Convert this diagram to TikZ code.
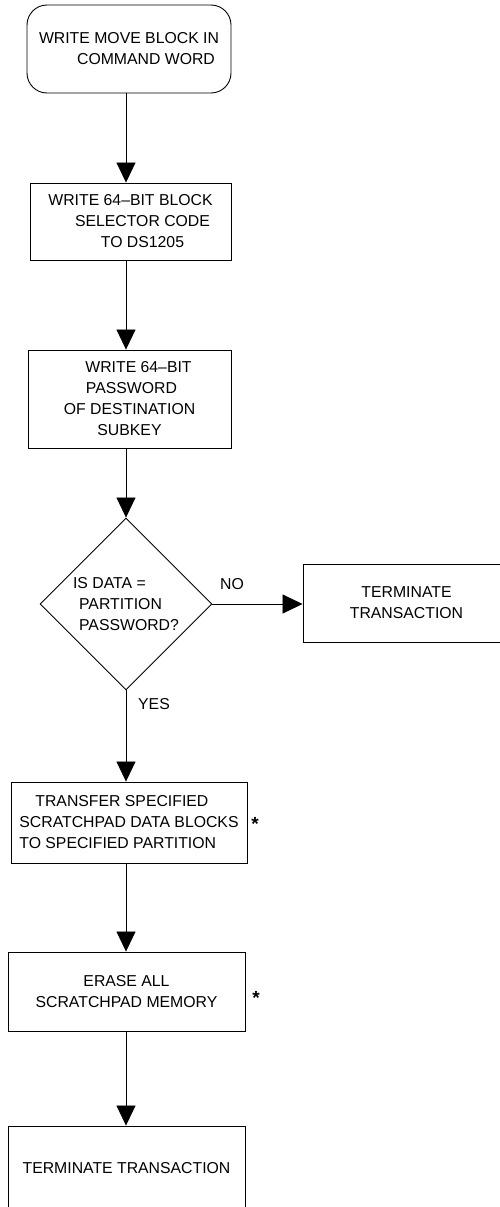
\documentclass[tikz,border=0pt]{standalone}
\usepackage{fontspec}
\setmainfont{Liberation Sans}
\usetikzlibrary{arrows.meta,shapes.geometric}
\tikzset{
  base/.style={draw=black, line width=0.9pt, inner sep=0pt, font=\fontsize{15.8}{21}\selectfont, align=center},
  stepbox/.style={base, rectangle},
  startbox/.style={base, rectangle, rounded corners=20pt},
  decision/.style={base, diamond, aspect=1, minimum width=172pt, minimum height=172pt, align=left},
  flowarrow/.style={draw=black, line width=0.8pt, -{Triangle[width=19pt,length=20pt]}},
  lbl/.style={inner sep=0pt, font=\fontsize{15.8}{21}\selectfont},
  star/.style={inner sep=0pt, font=\fontsize{19}{21}\selectfont\bfseries, anchor=base}
}
\begin{document}
\begin{tikzpicture}[x=1pt,y=-1pt]
\useasboundingbox (0,0) rectangle (499,1207);
\node[startbox, minimum width=204pt, minimum height=88pt] (s) at (129,49)
  {WRITE MOVE BLOCK IN\\\hspace*{34pt}COMMAND WORD};
\node[stepbox, minimum width=201pt, minimum height=77pt] (b2) at (130.5,221.5)
  {WRITE 64–BIT BLOCK\\\hspace*{24pt}SELECTOR CODE\\\hspace*{24pt}TO DS1205};
\node[stepbox, minimum width=203pt, minimum height=98pt] (b3) at (129.5,399)
  {\hspace*{18pt}WRITE 64–BIT\\\hspace*{4pt}PASSWORD\\OF DESTINATION\\SUBKEY};
\node[decision] (d) at (126,604)
  {IS DATA =\\\hspace*{6pt}PARTITION\\\hspace*{6pt}PASSWORD?};
\node[stepbox, minimum width=207pt, minimum height=78pt] (t1) at (406.5,603)
  {TERMINATE\\TRANSACTION};
\node[stepbox, minimum width=236pt, minimum height=81pt, align=left] (b5) at (129,822.5)
  {\hspace*{16pt}TRANSFER SPECIFIED\\SCRATCHPAD DATA BLOCKS\\TO SPECIFIED PARTITION};
\node[stepbox, minimum width=237pt, minimum height=79pt] (b6) at (126.5,991.5)
  {ERASE ALL\\SCRATCHPAD MEMORY};
\node[stepbox, minimum width=237pt, minimum height=84pt] (t2) at (126.5,1168)
  {TERMINATE TRANSACTION};
\node[star] (a1) at (255,830) {*};
\node[star] (a2) at (256,1004) {*};
\node[lbl] (no) at (232,584) {NO};
\node[lbl] (yes) at (154,704) {YES};
\draw[flowarrow] (s.south -| d.north) -- (b2.north -| d.north);
\draw[flowarrow] (b2.south -| d.north) -- (b3.north -| d.north);
\draw[flowarrow] (b3.south -| d.north) -- (d.north);
\draw[flowarrow] (d.east) -- (t1.west |- d.east);
\draw[flowarrow] (d.south) -- (b5.north -| d.south);
\draw[flowarrow] (b5.south -| d.south) -- (b6.north -| d.south);
\draw[flowarrow] (b6.south -| d.south) -- (t2.north -| d.south);
\end{tikzpicture}
\end{document}
